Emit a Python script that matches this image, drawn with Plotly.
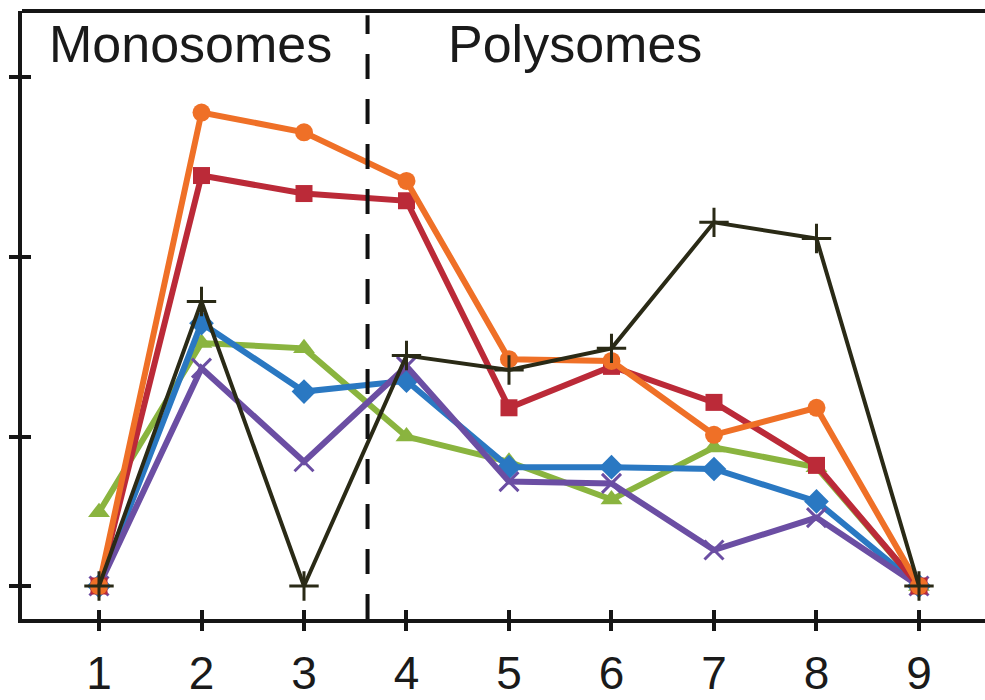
import plotly.graph_objects as go

fractions = [1, 2, 3, 4, 5, 6, 7, 8, 9]
tick_labels = ["1", "2", "3", "4", "5", "6", "7", "8", "9"]

orange_circle = [0, 2.63, 2.52, 2.25, 1.26, 1.25, 0.84, 0.99, 0]
red_square = [0, 2.28, 2.18, 2.14, 0.99, 1.22, 1.02, 0.67, 0]
blue_diamond = [0, 1.46, 1.08, 1.14, 0.66, 0.66, 0.65, 0.47, 0]
green_triangle = [0.41, 1.35, 1.32, 0.83, 0.69, 0.48, 0.77, 0.66, 0]
purple_x = [0, 1.21, 0.69, 1.22, 0.58, 0.57, 0.20, 0.38, 0]
black_plus = [0, 1.58, 0, 1.28, 1.20, 1.32, 2.02, 1.93, 0]

y_ticks = [0, 0.83, 1.83, 2.83]
divider_x = 3.62
labels = ["Monosomes", "Polysomes"]
label_x = [1.89, 5.64]

FONT = "Liberation Sans, Arial, Helvetica, sans-serif"

series = [
    (green_triangle, "#8ab43f", "triangle-up", 6, 19),
    (blue_diamond, "#2a78c2", "diamond", 6, 19),
    (purple_x, "#6b4ea3", "x-thin-open", 6, 19),
    (red_square, "#bb2a38", "square", 6, 17),
    (orange_circle, "#ef7027", "circle", 6, 18),
    (black_plus, "#2a2a16", "cross-thin-open", 4, 21),
]

fig = go.Figure()
for vals, color, sym, lw, ms in series:
    marker = dict(symbol=sym, size=ms, color=color,
                  line=dict(color=color, width=3 if "open" in sym else 0))
    fig.add_trace(go.Scatter(x=fractions, y=vals, mode="lines+markers",
                             line=dict(color=color, width=lw), marker=marker,
                             showlegend=False, cliponaxis=False))

xr = [0.2488, 9.644]
yr = [-0.1833, 3.194]

fig.update_layout(
    template="none",
    width=985, height=700,
    margin=dict(l=22, r=0, t=11, b=81, autoexpand=False),
    paper_bgcolor="white", plot_bgcolor="white",
    font=dict(family=FONT, color="#1a1a1a"),
    xaxis=dict(range=xr, tickvals=fractions, ticktext=tick_labels, showgrid=False,
               zeroline=False, showline=True, linecolor="#161616", linewidth=4,
               ticks="outside", ticklen=8, tickwidth=4, tickcolor="#161616",
               ticklabelstandoff=3, automargin=False,
               tickfont=dict(size=46, family=FONT, color="#1a1a1a")),
    xaxis2=dict(range=xr, overlaying="x", tickvals=fractions, showticklabels=False,
                showgrid=False, zeroline=False, showline=False, automargin=False,
                ticks="inside", ticklen=9, tickwidth=4, tickcolor="#161616"),
    yaxis=dict(range=yr, tickvals=y_ticks, showticklabels=False, showgrid=False,
               zeroline=False, showline=True, linecolor="#161616", linewidth=4,
               automargin=False,
               ticks="outside", ticklen=9, tickwidth=4, tickcolor="#161616"),
    yaxis2=dict(range=yr, overlaying="y", tickvals=y_ticks, showticklabels=False,
                showgrid=False, zeroline=False, showline=False, automargin=False,
                ticks="inside", ticklen=9, tickwidth=4, tickcolor="#161616"),
)

# dummy trace to activate secondary axes
fig.add_trace(go.Scatter(x=[None], y=[None], xaxis="x2", yaxis="y2",
                         showlegend=False, hoverinfo="skip"))

fig.add_shape(type="line", xref="x", yref="paper", x0=divider_x, x1=divider_x, y0=0, y1=0.993,
              line=dict(color="#111111", width=4, dash="25px,20px"))
fig.add_shape(type="line", xref="paper", yref="paper", x0=0, x1=1, y0=1, y1=1,
              line=dict(color="#161616", width=4))

for txt, lx in zip(labels, label_x):
    fig.add_annotation(x=lx, y=0.946, xref="x", yref="paper", text=txt, showarrow=False,
                       font=dict(size=52, family=FONT, color="#1a1a1a"),
                       xanchor="center", yanchor="middle")

fig.write_html("out.html", config={"displayModeBar": False},
               post_script="document.body.style.margin='0';document.body.style.overflow='hidden';")
